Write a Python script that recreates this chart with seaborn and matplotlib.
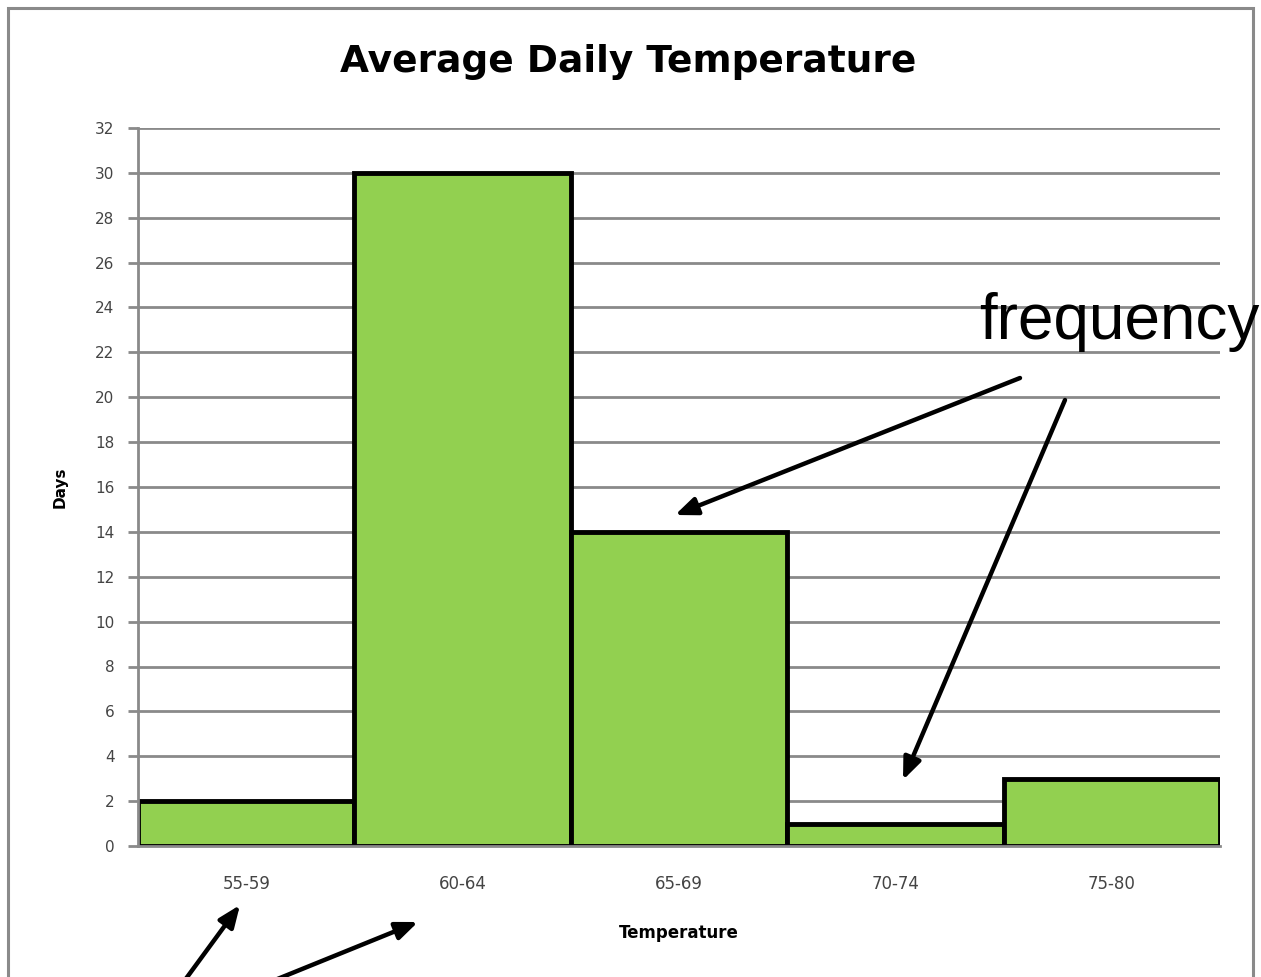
import matplotlib
matplotlib.use("Agg")
import matplotlib.pyplot as plt
import seaborn as sns
import pandas as pd
from matplotlib.patches import Rectangle

# data
temp_ranges = ["55-59", "60-64", "65-69", "70-74", "75-80"]
days = [2, 30, 14, 1, 3]

df = pd.DataFrame({"Temperature": temp_ranges, "Days": days})

sns.set_theme(style="white")
plt.rcParams['font.family'] = ['DejaVu Sans']
plt.rcParams['text.color'] = 'black'
plt.rcParams['axes.labelcolor'] = 'black'

W, H = 1261, 977
fig = plt.figure(figsize=(W / 100, H / 100), dpi=100)
ax = fig.add_axes([138 / W, 1 - 846 / H, (1220 - 138) / W, (846 - 128) / H])

grid_col = "#8a8a8a"
ax.set_ylim(0, 32)
ax.set_yticks(range(0, 33, 2))
ax.yaxis.grid(True, color=grid_col, linewidth=2)
ax.set_axisbelow(True)

sns.barplot(data=df, x="Temperature", y="Days", color="#92D050", width=1.0,
            edgecolor="black", linewidth=3.5, saturation=1, ax=ax)
ax.set_xlim(-0.5, 4.5)

for s in ["top", "right"]:
    ax.spines[s].set_visible(False)
for s in ["left", "bottom"]:
    ax.spines[s].set_color(grid_col)
    ax.spines[s].set_linewidth(2)

# x ticks sit on the bar boundaries, labels in the middle
ax.set_xticks([i + 0.5 for i in range(-1, 5)], minor=True)
ax.tick_params(axis="x", which="minor", length=7, width=2, color=grid_col, direction="out")
ax.tick_params(axis="x", which="major", length=0, pad=21, labelsize=12, labelcolor="#444444")
ax.tick_params(axis="y", length=7, width=2, color=grid_col, direction="out", pad=10,
               labelsize=11, labelcolor="#444444", left=True)

ax.set_xlabel("Temperature", fontsize=12, fontweight="bold", labelpad=22)
ax.set_ylabel("Days", fontsize=11, fontweight="bold", labelpad=20)

fig.text(628 / W, 1 - 62 / H, "Average Daily Temperature", ha="center", va="center",
         fontsize=27, fontweight="bold")

# outer frame
fig.add_artist(Rectangle((8 / W, -0.05), (1253 - 8) / W, 1.05 - 8 / H,
                         transform=fig.transFigure, fill=False,
                         edgecolor="#8a8a8a", linewidth=2.2))

fig.text(1119 / W, 1 - 322 / H, "frequency", ha="center", va="center",
         fontsize=46, family="Liberation Sans")

arrows = [((1020, 378), (675, 515)), ((1065, 400), (903, 780)),
          ((185, 980), (240, 905)), ((275, 980), (418, 922))]
for (x0, y0), (x1, y1) in arrows:
    fig.add_artist(plt.Annotation("", xy=(x1 / W, 1 - y1 / H), xytext=(x0 / W, 1 - y0 / H),
                                  xycoords="figure fraction", textcoords="figure fraction",
                                  arrowprops=dict(arrowstyle="-|>,head_length=1.1,head_width=0.45",
                                                  color="black", lw=3.2, shrinkA=0, shrinkB=0)))

fig.savefig("out.png", dpi=100, facecolor="white")
